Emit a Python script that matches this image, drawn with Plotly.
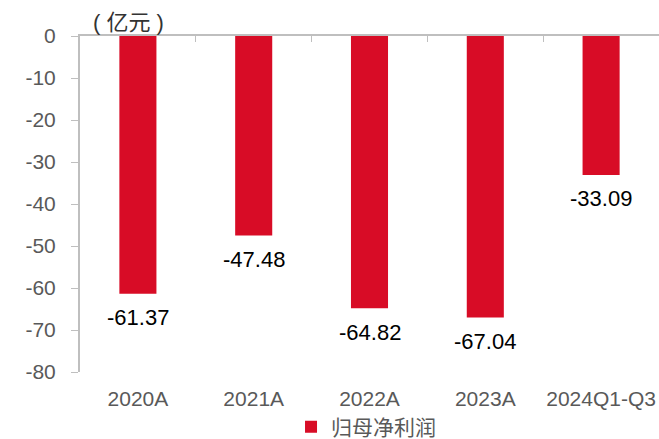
import plotly.graph_objects as go

categories = ["2020A", "2021A", "2022A", "2023A", "2024Q1-Q3"]
values = [-61.37, -47.48, -64.82, -67.04, -33.09]
labels = ["-61.37", "-47.48", "-64.82", "-67.04", "-33.09"]
y_ticks = [0, -10, -20, -30, -40, -50, -60, -70, -80]
y_ticktext = ["0", "-10", "-20", "-30", "-40", "-50", "-60", "-70", "-80"]
series_name = "归母净利润"
unit_label = "( 亿元 )"

RED = "#D80C26"
GRAY = "#595959"
AXIS = "#BFBFBF"
FONT = "Liberation Sans, Arial, Noto Sans CJK SC, sans-serif"

fig = go.Figure()
fig.add_trace(go.Bar(
    x=list(range(len(categories))), y=values, name=series_name,
    marker=dict(color=RED, line=dict(width=0)),
    width=0.32,
    showlegend=True,
))
for i, (v, t) in enumerate(zip(values, labels)):
    fig.add_annotation(x=i, y=v, text=t, showarrow=False, yanchor="middle",
                       yshift=-24, font=dict(size=22, color="#000000", family=FONT))

fig.add_annotation(x=0.0, y=1.0, xref="paper", yref="paper", xshift=11, yshift=14,
                   xanchor="left", text=unit_label, showarrow=False, yanchor="middle",
                   font=dict(size=22, color="#333333", family=FONT))

fig.update_layout(
    width=659, height=439,
    margin=dict(l=80, r=0, t=36, b=67, autoexpand=False),
    paper_bgcolor="white", plot_bgcolor="white",
    font=dict(family=FONT, size=21, color=GRAY),
    xaxis=dict(range=[-0.5, 4.5], tickvals=list(range(len(categories))),
               ticktext=categories, showline=False, showgrid=False, zeroline=False,
               ticks="", tickfont=dict(size=21, color=GRAY), ticklabelstandoff=12,
               automargin=False),
    xaxis2=dict(range=[-0.5, 4.5], overlaying="x", side="top", anchor="y",
                showline=True, linecolor=AXIS, linewidth=2, showgrid=False, zeroline=False,
                ticks="inside", ticklen=6, tickcolor=AXIS, tickwidth=1,
                tickvals=[-0.5, 0.5, 1.5, 2.5, 3.5, 4.5], showticklabels=False,
                automargin=False),
    yaxis=dict(range=[-80, 0], tickvals=y_ticks, ticktext=y_ticktext, showline=True,
               linecolor=AXIS, linewidth=2, showgrid=False, zeroline=False,
               ticks="outside", ticklen=7, tickcolor=AXIS,
               tickfont=dict(size=21, color=GRAY), ticklabelstandoff=11,
               automargin=False),
    legend=dict(orientation="h", x=0.494, xanchor="center",
                yref="container", y=0.027, yanchor="middle",
                bgcolor="rgba(0,0,0,0)",
                font=dict(size=21, color=GRAY), itemwidth=30),
    showlegend=True,
)
fig.add_trace(go.Scatter(x=[None], y=[None], xaxis="x2", showlegend=False, hoverinfo="skip"))

fig.write_html("out.html")
